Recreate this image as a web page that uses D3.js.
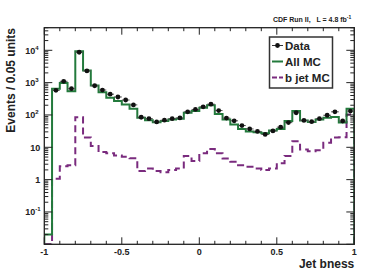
<!DOCTYPE html>
<html>
<head>
<meta charset="utf-8">
<script src="https://cdn.jsdelivr.net/npm/d3@7"></script>
<style>
  body { margin: 0; background: #fff; }
  text { font-family: "Liberation Sans", Arial, sans-serif; font-weight: bold; fill: #222; }
</style>
</head>
<body>
<svg id="chart" width="374" height="272"></svg>
<script>
// 40 bins of 0.05 from -1 to 1
var binEdges = d3.range(41).map(function(i){ return -1 + i * 0.05; });

var allMC = [0.02, 650, 980, 540, 9300, 2360, 810, 505, 340, 270,
             210, 155, 82, 69, 60, 65, 72, 76, 117, 132,
             167, 200, 108, 72, 51, 37, 31, 29, 27, 33,
             37, 65, 132, 68, 61, 72, 82, 87, 58, 155];

var bjetMC = [0.005, 1.07, 2.6, 2.8, 85, 20, 11, 7.1, 6.5, 5.6,
              5.1, 4.6, 1.85, 2.2, 1.85, 1.7, 2.0, 2.2, 5.4, 3.8,
              6.5, 8.9, 6.5, 4.5, 3.6, 2.8, 2.5, 2.2, 2.0, 2.2,
              3.2, 5.4, 15.5, 8.5, 7.6, 8.1, 13.8, 20, 20.5, 103];

var dataVals = [null, 580, 1100, 650, 8700, 2300, 800, 590, 440, 360,
                290, 205, 85, 77, 61, 69, 77, 81, 125, 148,
                178, 215, 137, 80, 66, 47, 37, 31, 25, 32,
                42, 58, 117, 68, 62, 77, 98, 125, 65, 132];

var xTicks = [-1, -0.5, 0, 0.5, 1];
var yTicks = [0.1, 1, 10, 100, 1000, 10000];

var margin = {left: 44.3, right: 19.7, top: 27.7, bottom: 27.7};
var W = 374, H = 272;
var svg = d3.select("#chart");

var x = d3.scaleLinear().domain([-1, 1]).range([margin.left, W - margin.right]);
var y = d3.scaleLog().domain([0.01, 50000]).range([H - margin.bottom, margin.top]).clamp(true);

svg.append("defs").append("clipPath").attr("id", "clip")
  .append("rect")
  .attr("x", x(-1)).attr("y", y(50000))
  .attr("width", x(1) - x(-1)).attr("height", y(0.01) - y(50000));

function stepPoints(vals){
  var pts = [[binEdges[0], 0.001]];
  vals.forEach(function(v, i){
    pts.push([binEdges[i], v]);
    pts.push([binEdges[i + 1], v]);
  });
  pts.push([binEdges[40], 0.001]);
  return pts;
}

var line = d3.line()
  .x(function(d){ return x(d[0]); })
  .y(function(d){ return y(d[1]); });

var plot = svg.append("g").attr("clip-path", "url(#clip)");

plot.append("path")
  .attr("d", line(stepPoints(bjetMC)))
  .attr("fill", "none")
  .attr("stroke", "#7a2b7e")
  .attr("stroke-width", 2)
  .attr("stroke-dasharray", "7,4");

plot.append("path")
  .attr("d", line(stepPoints(allMC)))
  .attr("fill", "none")
  .attr("stroke", "#237a3c")
  .attr("stroke-width", 2);

// data points
var pts = dataVals.map(function(v, i){ return {v: v, c: (binEdges[i] + binEdges[i + 1]) / 2}; })
  .filter(function(d){ return d.v !== null; });

plot.selectAll("line.err").data(pts).enter().append("line")
  .attr("class", "err")
  .attr("x1", function(d){ return x(d.c - 0.025); })
  .attr("x2", function(d){ return x(d.c + 0.025); })
  .attr("y1", function(d){ return y(d.v); })
  .attr("y2", function(d){ return y(d.v); })
  .attr("stroke", "#555")
  .attr("stroke-width", 1);

plot.selectAll("circle.pt").data(pts).enter().append("circle")
  .attr("class", "pt")
  .attr("cx", function(d){ return x(d.c); })
  .attr("cy", function(d){ return y(d.v); })
  .attr("r", 2.4)
  .attr("fill", "#111");

// frame
var axes = svg.append("g").attr("stroke", "#222").attr("stroke-width", 1);
axes.append("rect")
  .attr("x", x(-1)).attr("y", y(50000))
  .attr("width", x(1) - x(-1)).attr("height", y(0.01) - y(50000))
  .attr("fill", "none").attr("stroke-width", 1.3);

// x ticks (inward, bottom and top)
var xMinor = d3.range(-1, 1.0001, 0.1).map(function(v){ return Math.round(v * 10) / 10; });
xMinor.forEach(function(v){
  var major = xTicks.indexOf(v) >= 0;
  var len = major ? 7 : 3.5;
  axes.append("line").attr("x1", x(v)).attr("x2", x(v))
    .attr("y1", y(0.01)).attr("y2", y(0.01) - len);
  axes.append("line").attr("x1", x(v)).attr("x2", x(v))
    .attr("y1", y(50000)).attr("y2", y(50000) + len);
});

// y ticks (inward, left and right)
for (var e = -2; e <= 4; e++) {
  for (var m = 1; m <= 9; m++) {
    var v = m * Math.pow(10, e);
    if (v < 0.01 || v > 50000) continue;
    var len = m === 1 ? 8 : 4;
    axes.append("line").attr("x1", x(-1)).attr("x2", x(-1) + len)
      .attr("y1", y(v)).attr("y2", y(v));
    axes.append("line").attr("x1", x(1)).attr("x2", x(1) - len)
      .attr("y1", y(v)).attr("y2", y(v));
  }
}

// tick labels
svg.selectAll("text.xt").data(xTicks).enter().append("text")
  .attr("class", "xt")
  .attr("x", function(d){ return x(d); })
  .attr("y", y(0.01) + 11)
  .attr("text-anchor", "middle")
  .attr("font-size", 9)
  .text(function(d){ return d === 0 ? "0" : String(d); });

var yLabels = {0.1: ["10", "-1"], 1: ["1", ""], 10: ["10", ""], 100: ["10", "2"], 1000: ["10", "3"], 10000: ["10", "4"]};
yTicks.forEach(function(v){
  var lab = yLabels[v];
  svg.append("text")
    .attr("x", x(-1) - 4 - (lab[1] ? 5 : 0))
    .attr("y", y(v) + 3.5)
    .attr("text-anchor", "end")
    .attr("font-size", 9)
    .text(lab[0]);
  if (lab[1]) {
    svg.append("text")
      .attr("x", x(-1) - 9)
      .attr("y", y(v) - 0.5)
      .attr("font-size", 6)
      .text(lab[1]);
  }
});

// axis titles
svg.append("text")
  .attr("x", x(1))
  .attr("y", 268)
  .attr("text-anchor", "end")
  .attr("font-size", 12)
  .text("Jet bness");

svg.append("text")
  .attr("transform", "translate(15," + 28 + ") rotate(-90)")
  .attr("text-anchor", "end")
  .attr("font-size", 12)
  .text("Events / 0.05 units");

// header
var hdr = svg.append("text")
  .attr("x", x(1) - 3)
  .attr("y", 22)
  .attr("text-anchor", "end")
  .attr("font-size", 7);
hdr.append("tspan").text("CDF Run II,\u00a0\u00a0 L = 4.8 fb");
hdr.append("tspan").attr("dy", -3).attr("font-size", 5).text("-1");

// legend
var lg = svg.append("g");
lg.append("rect")
  .attr("x", 269.5).attr("y", 37)
  .attr("width", 63).attr("height", 51)
  .attr("fill", "#fff").attr("stroke", "#333").attr("stroke-width", 1.5);

var legendItems = [
  {name: "Data", type: "data"},
  {name: "All MC", type: "mc"},
  {name: "b jet MC", type: "b"}
];
legendItems.forEach(function(d, i){
  var yy = 45.5 + i * 16;
  if (d.type === "data") {
    lg.append("line").attr("x1", 272).attr("x2", 283).attr("y1", yy).attr("y2", yy)
      .attr("stroke", "#333").attr("stroke-width", 1);
    lg.append("circle").attr("cx", 277.5).attr("cy", yy).attr("r", 2.4).attr("fill", "#111");
  } else if (d.type === "mc") {
    lg.append("line").attr("x1", 272).attr("x2", 283).attr("y1", yy).attr("y2", yy)
      .attr("stroke", "#237a3c").attr("stroke-width", 2);
  } else {
    lg.append("line").attr("x1", 272).attr("x2", 283).attr("y1", yy).attr("y2", yy)
      .attr("stroke", "#7a2b7e").attr("stroke-width", 2).attr("stroke-dasharray", "5,2");
  }
  lg.append("text")
    .attr("x", 285)
    .attr("y", yy + 4.5)
    .attr("font-size", 11.5)
    .text(d.name);
});
</script>
</body>
</html>
